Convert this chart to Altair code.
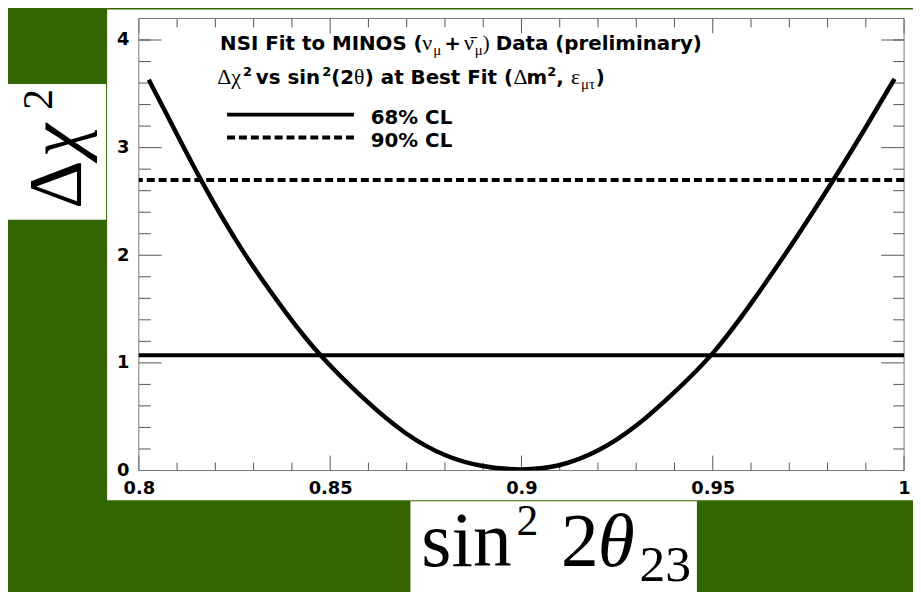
import altair as alt
import pandas as pd

# ---------------- data ----------------
sin2_x = [0.8026, 0.806, 0.816, 0.8272, 0.8397, 0.847, 0.8587, 0.8699, 0.8803, 0.8898, 0.9,
          0.9097, 0.9201, 0.9304, 0.9399, 0.95, 0.9605, 0.9726, 0.9817, 0.9899, 0.9975]
dchi2 = [3.63, 3.40, 2.70, 2.015, 1.40, 1.076, 0.661, 0.323, 0.124, 0.031, 0.0,
         0.031, 0.17, 0.415, 0.723, 1.067, 1.568, 2.20, 2.707, 3.18, 3.64]
cl68 = [1.07]
cl90 = [2.70]

x_major = [0.8, 0.85, 0.9, 0.95, 1.0]
x_minor = [0.81, 0.82, 0.83, 0.84, 0.86, 0.87, 0.88, 0.89, 0.91, 0.92, 0.93, 0.94,
           0.96, 0.97, 0.98, 0.99]
y_major = [0, 1, 2, 3, 4]
y_minor = [0.2, 0.4, 0.6, 0.8, 1.2, 1.4, 1.6, 1.8, 2.2, 2.4, 2.6, 2.8,
           3.2, 3.4, 3.6, 3.8, 4.0]

W, H = 772, 456
GREEN = "#336600"
SANS = "DejaVu Sans"
SERIF = "Liberation Serif"
TICK = "#555555"
FRAME = "#777777"

xscale = alt.Scale(domain=[0.8, 1.0], nice=False, zero=False)
yscale = alt.Scale(domain=[0, 4.2], nice=False, zero=False)
xaxis = alt.Axis(title=None, values=x_major, format=".3~f", domain=False, ticks=False,
                 tickSize=0, grid=False, labelFont=SANS, labelFontWeight="bold",
                 labelFontSize=18, labelColor="black", labelPadding=9,
                 labelFlush=False, labelOverlap=False, zindex=1)
yaxis = alt.Axis(title=None, values=y_major, format="d", domain=False, ticks=False,
                 tickSize=0, grid=False, labelFont=SANS, labelFontWeight="bold",
                 labelFontSize=18, labelColor="black", labelPadding=10,
                 labelOverlap=False, zindex=1)

def X(f):
    return alt.X(f, type="quantitative", scale=xscale, axis=xaxis)

def Y(f):
    return alt.Y(f, type="quantitative", scale=yscale, axis=yaxis)

one = pd.DataFrame({"a": [0]})

def box(x1, x2, y1, y2, fill="white"):
    return alt.Chart(one).mark_rect(fill=fill).encode(
        x=alt.value(x1), x2=alt.value(x2), y=alt.value(y1), y2=alt.value(y2))

def txt(s, x, y, size=20, font=SANS, weight="bold", style="normal", angle=0):
    return alt.Chart(one).mark_text(
        text=s, font=font, fontSize=size, fontWeight=weight, fontStyle=style,
        align="left", baseline="alphabetic", angle=angle, color="black"
    ).encode(x=alt.value(x), y=alt.value(y))

layers = []
# white panels
layers.append(box(-32, 781, -9, 486))
layers.append(box(-132, -33, 66, 203))
layers.append(box(274, 563, 487, 580))

# ticks (inward, both sides)
xmaj = pd.DataFrame({"v": x_major})
xmin = pd.DataFrame({"v": x_minor})
ymaj = pd.DataFrame({"v": y_major})
ymin = pd.DataFrame({"v": y_minor})
rule = dict(color=TICK, strokeWidth=1)
layers.append(alt.Chart(xmaj).mark_rule(**rule).encode(x=X("v"), y=alt.value(H), y2=alt.value(H - 15)))
layers.append(alt.Chart(xmin).mark_rule(**rule).encode(x=X("v"), y=alt.value(H), y2=alt.value(H - 8)))
layers.append(alt.Chart(xmaj).mark_rule(**rule).encode(x=X("v"), y=alt.value(0), y2=alt.value(15)))
layers.append(alt.Chart(xmin).mark_rule(**rule).encode(x=X("v"), y=alt.value(0), y2=alt.value(9)))
layers.append(alt.Chart(ymaj).mark_rule(**rule).encode(y=Y("v"), x=alt.value(0), x2=alt.value(23)))
layers.append(alt.Chart(ymin).mark_rule(**rule).encode(y=Y("v"), x=alt.value(0), x2=alt.value(12)))
layers.append(alt.Chart(ymaj).mark_rule(**rule).encode(y=Y("v"), x=alt.value(W), x2=alt.value(W - 23)))
layers.append(alt.Chart(ymin).mark_rule(**rule).encode(y=Y("v"), x=alt.value(W), x2=alt.value(W - 11)))

# frame
layers.append(alt.Chart(one).mark_rect(filled=False, stroke=FRAME, strokeWidth=1).encode(
    x=alt.value(0), x2=alt.value(W), y=alt.value(0), y2=alt.value(H)))

# CL lines
layers.append(alt.Chart(pd.DataFrame({"v": cl68})).mark_rule(color="black", strokeWidth=4).encode(y=Y("v")))
layers.append(alt.Chart(pd.DataFrame({"v": cl90})).mark_rule(color="black", strokeWidth=4,
                                                           strokeDash=[8, 4]).encode(y=Y("v")))

# curve
curve = pd.DataFrame({"x": sin2_x, "y": dchi2})
layers.append(alt.Chart(curve).mark_line(color="black", strokeWidth=4.5, interpolate="basis",
                                         clip=True).encode(x=X("x"), y=Y("y")))

# legend / header text
B1 = 32
layers += [
    txt("NSI Fit to MINOS (", 82, B1, 20),
    txt("\u03bd", 286, B1, 22, SERIF, "normal"),
    txt("\u03bc", 297, B1 + 5, 15, SERIF, "normal"),
    txt("+", 308, B1, 20),
    txt("\u03bd\u0304", 328, B1, 22, SERIF, "normal"),
    txt("\u03bc", 339, B1 + 5, 15, SERIF, "normal"),
    txt(")", 347, B1, 21, SERIF, "normal"),
    txt("Data (preliminary)", 360, B1, 20),
]
B2 = 66
layers += [
    txt("\u0394\u03c7", 79, B2, 22, SERIF, "normal"),
    txt("2", 105, B2 - 8, 13),
    txt("vs sin", 118, B2, 20),
    txt("2", 185, B2 - 8, 13),
    txt("(2", 194, B2, 20),
    txt("\u03b8", 217, B2, 22, SERIF, "normal"),
    txt(") at Best Fit (", 228, B2, 20),
    txt("\u0394", 378, B2, 22, SERIF, "normal"),
    txt("m", 391, B2, 20),
    txt("2", 412, B2 - 8, 13),
    txt(",", 421, B2, 20),
    txt("\u03b5", 436, B2, 22, SERIF, "normal"),
    txt("\u03bc\u03c4", 446, B2 + 5, 15, SERIF, "normal"),
    txt(")", 461, B2, 20),
]
# legend entries
layers.append(alt.Chart(one).mark_rule(color="black", strokeWidth=4).encode(
    x=alt.value(89), x2=alt.value(217), y=alt.value(97)))
layers.append(alt.Chart(one).mark_rule(color="black", strokeWidth=4, strokeDash=[8, 4]).encode(
    x=alt.value(89), x2=alt.value(217), y=alt.value(120)))
layers += [txt("68% CL", 234, 106, 20), txt("90% CL", 234, 130, 20)]

# axis titles (LaTeX-like)
layers += [
    txt("\u0394", -58, 192, 76, SERIF, "normal", angle=270),
    txt("\u03c7", -58, 140, 76, SERIF, "normal", "italic", angle=270),
    txt("2", -88, 92, 42, SERIF, "normal", angle=270),
    txt("sin", 285, 552, 78, SERIF, "normal"),
    txt("2", 381, 521, 44, SERIF, "normal"),
    txt("2", 426, 552, 76, SERIF, "normal"),
    txt("\u03b8", 463, 552, 76, SERIF, "normal", "italic"),
    txt("23", 505, 567, 52, SERIF, "normal"),
]

chart = alt.layer(*layers).properties(
    width=W, height=H,
    autosize=alt.AutoSizeParams(type="none"),
    padding={"left": 132, "top": 8, "right": 9, "bottom": 120},
).configure(background=GREEN).configure_view(stroke=None, fill=None)

chart.save("out.html", embed_options={"renderer": "svg", "actions": False})
